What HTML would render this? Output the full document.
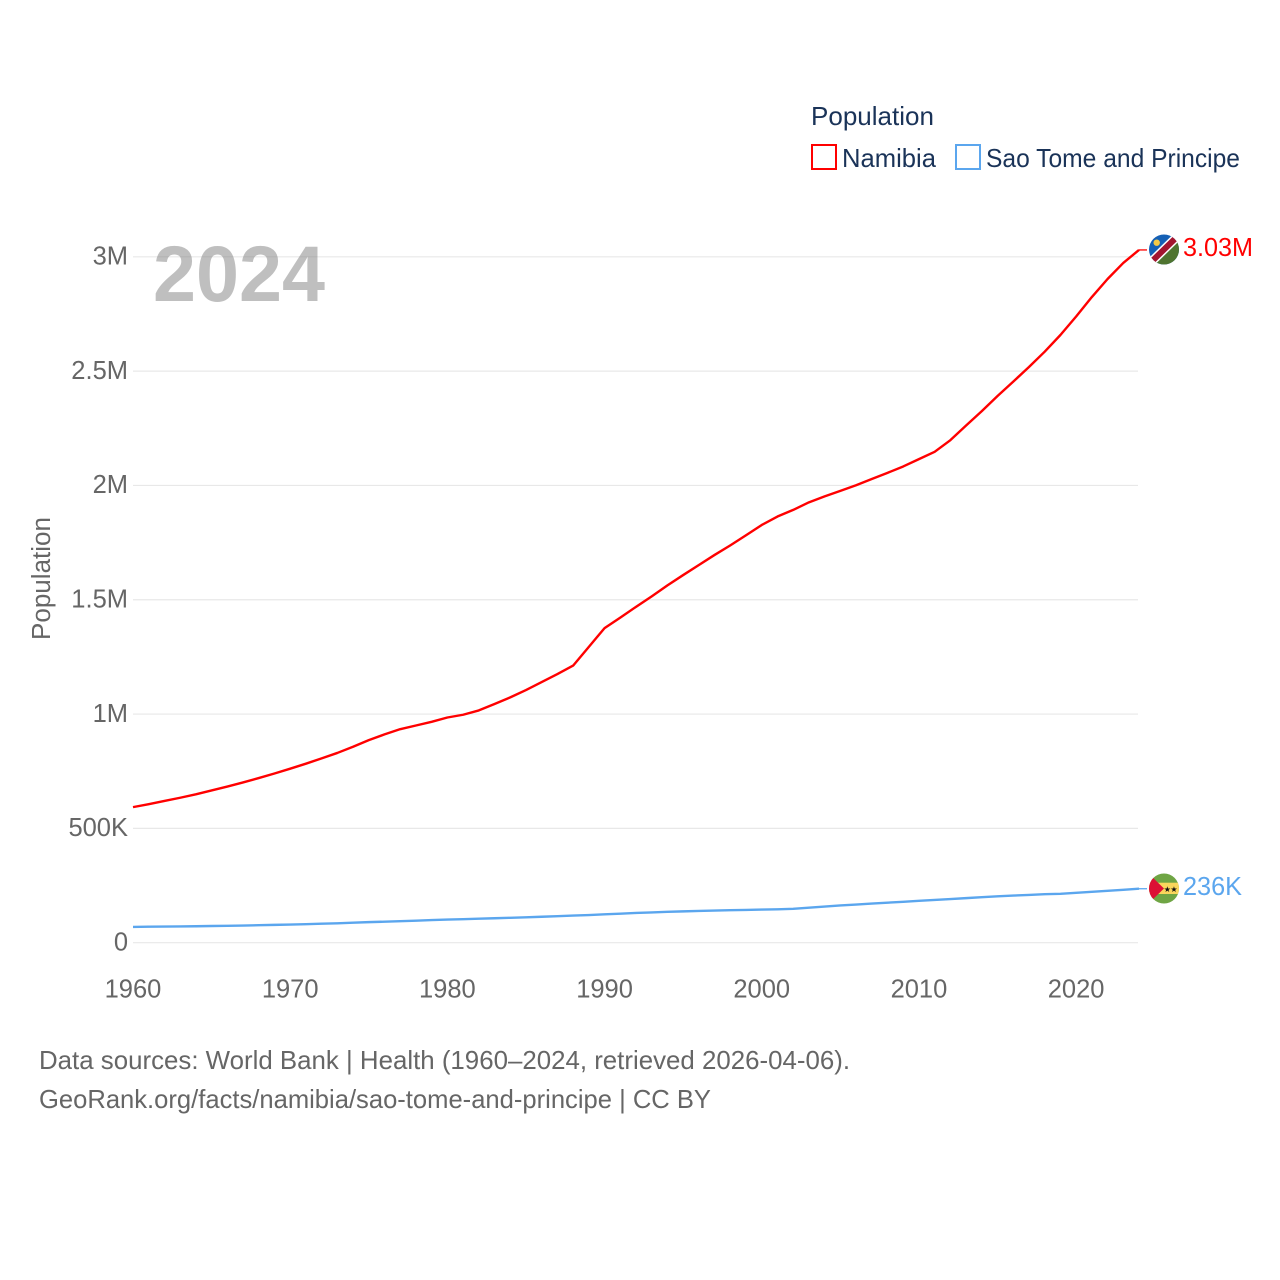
<!DOCTYPE html>
<html lang="en">
<head>
<meta charset="utf-8">
<title>Population: Namibia and Sao Tome and Principe</title>
<style>
html,body{margin:0;padding:0;background:#fff;width:1280px;height:1280px;overflow:hidden}
svg{display:block}
text{font-family:"Liberation Sans",sans-serif}
</style>
</head>
<body>
<svg id="chart" xmlns="http://www.w3.org/2000/svg" width="1280" height="1280" viewBox="0 0 1280 1280">
  <defs>
    <clipPath id="clip-na"><circle cx="1164" cy="249.5" r="15"/></clipPath>
    <clipPath id="clip-st"><circle cx="1164" cy="888.5" r="15"/></clipPath>
  </defs>
  <rect x="0" y="0" width="1280" height="1280" fill="#fff"/>
  <g id="grid"></g>
  <text x="153" y="301" font-size="79" font-weight="700" fill="#808080" fill-opacity="0.5" textLength="172" lengthAdjust="spacingAndGlyphs">2024</text>
  <g id="y-ticks"></g>
  <g id="x-ticks"></g>
  <text transform="translate(50,640) rotate(-90)" font-size="25.5" fill="#666" textLength="123" lengthAdjust="spacingAndGlyphs">Population</text>
  <g id="series"></g>

  <g>
    <text x="811" y="125" font-size="26" fill="#1a3358" textLength="123" lengthAdjust="spacingAndGlyphs">Population</text>
    <rect x="812" y="145" width="24" height="24" fill="#fff" stroke="#ff0000" stroke-width="2"/>
    <text x="842" y="167" font-size="26" fill="#1a3358" textLength="94" lengthAdjust="spacingAndGlyphs">Namibia</text>
    <rect x="956" y="145" width="24" height="24" fill="#fff" stroke="#5ba6ee" stroke-width="2"/>
    <text x="986" y="167" font-size="26" fill="#1a3358" textLength="254" lengthAdjust="spacingAndGlyphs">Sao Tome and Principe</text>
  </g>

  <g clip-path="url(#clip-na)">
    <rect x="1148" y="233" width="32" height="33" fill="#1560b5"/>
    <polygon points="1180,233 1180,266 1148,266" fill="#4f7430"/>
    <line x1="1144" y1="269" x2="1184" y2="230" stroke="#fff" stroke-width="9"/>
    <line x1="1144" y1="269" x2="1184" y2="230" stroke="#a3142f" stroke-width="6"/>
    <circle cx="1156.7" cy="242.7" r="3.2" fill="#f6c945"/>
  </g>
  <g clip-path="url(#clip-st)">
    <rect x="1148" y="873" width="32" height="32" fill="#6fa544"/>
    <rect x="1148" y="882.7" width="32" height="11.3" fill="#f9d65c"/>
    <polygon points="1148,873 1164,888.5 1148,904" fill="#dc0f35"/>
    <text x="1167.3" y="892" font-size="8" fill="#111" text-anchor="middle">★</text>
    <text x="1174" y="892" font-size="8" fill="#111" text-anchor="middle">★</text>
  </g>
  <text x="1183" y="256" font-size="25.5" fill="#ff0000" textLength="70" lengthAdjust="spacingAndGlyphs">3.03M</text>
  <text x="1183" y="895" font-size="25.5" fill="#5ba6ee" textLength="59" lengthAdjust="spacingAndGlyphs">236K</text>

  <text x="39" y="1069" font-size="26" fill="#666" textLength="811" lengthAdjust="spacingAndGlyphs">Data sources: World Bank | Health (1960–2024, retrieved 2026-04-06).</text>
  <text x="39" y="1108" font-size="26" fill="#666" textLength="672" lengthAdjust="spacingAndGlyphs">GeoRank.org/facts/namibia/sao-tome-and-principe | CC BY</text>
</svg>
<script>
const years = [1960,1961,1962,1963,1964,1965,1966,1967,1968,1969,1970,1971,1972,1973,1974,1975,1976,1977,1978,1979,1980,1981,1982,1983,1984,1985,1986,1987,1988,1989,1990,1991,1992,1993,1994,1995,1996,1997,1998,1999,2000,2001,2002,2003,2004,2005,2006,2007,2008,2009,2010,2011,2012,2013,2014,2015,2016,2017,2018,2019,2020,2021,2022,2023,2024];
const namibia = [593000,606000,620000,634000,649000,666000,683000,701000,720000,740000,761000,783000,806000,830000,857000,886000,911000,934000,950000,966000,985000,997000,1016000,1044000,1073000,1105000,1140000,1175000,1212000,1294000,1376000,1422000,1469000,1515000,1563000,1608000,1652000,1696000,1738000,1782000,1827000,1864000,1893000,1926000,1952000,1976000,2001000,2028000,2055000,2083000,2115000,2147000,2198000,2262000,2325000,2391000,2454000,2518000,2585000,2658000,2739000,2824000,2903000,2973000,3030000];
const saoTome = [69000,70000,70500,71000,72000,73000,74000,75000,76500,78000,79500,81000,83000,85000,87500,90000,92000,94000,96500,99000,101000,103000,105000,107000,109000,111000,113500,116000,118500,121000,124000,127000,130000,132500,135000,137000,139000,140500,142000,143500,145000,146000,148000,153000,158000,163000,167000,171000,175000,179000,183000,187000,191000,195000,199000,203000,206000,209000,212000,214000,218000,222500,227000,231500,236000];
const yTickValues = [0,500000,1000000,1500000,2000000,2500000,3000000];
const yTickLabels = ["0","500K","1M","1.5M","2M","2.5M","3M"];
const xTickValues = [1960,1970,1980,1990,2000,2010,2020];
const xTickLabels = ["1960","1970","1980","1990","2000","2010","2020"];

const NS = 'http://www.w3.org/2000/svg';
function xScale(year){ return 133 + (year - 1960) * (1139 - 133) / 64; }
function yScale(value){ return 942.7 - value * (942.7 - 256.8) / 3000000; }

const gridGroup = document.getElementById('grid');
const yTickGroup = document.getElementById('y-ticks');
yTickValues.forEach(function(v, i){
  const y = yScale(v);
  const line = document.createElementNS(NS, 'line');
  
  
  line.setAttribute('x1', 133);
  line.setAttribute('x2', 1138);
  line.setAttribute('y1', y);
  line.setAttribute('y2', y);
  line.setAttribute('stroke', '#e8e8e8');
  line.setAttribute('stroke-width', '1.2');
  gridGroup.appendChild(line);
  const label = document.createElementNS(NS, 'text');
  
  
  label.setAttribute('x', 128);
  label.setAttribute('y', y + 7.8);
  label.setAttribute('text-anchor', 'end');
  label.setAttribute('font-size', '25.5');
  label.setAttribute('fill', '#666');
  label.textContent = yTickLabels[i];
  yTickGroup.appendChild(label);
});

const xTickGroup = document.getElementById('x-ticks');
xTickValues.forEach(function(v, i){
  const label = document.createElementNS(NS, 'text');
  
  
  label.setAttribute('x', xScale(v));
  label.setAttribute('y', 997.5);
  label.setAttribute('text-anchor', 'middle');
  label.setAttribute('font-size', '25.5');
  label.setAttribute('fill', '#666');
  label.textContent = xTickLabels[i];
  xTickGroup.appendChild(label);
});

function drawSeries(values, color, lineName, leaderName){
  const group = document.getElementById('series');
  const pts = values.map(function(v, i){ return xScale(years[i]).toFixed(2) + ',' + yScale(v).toFixed(2); });
  const line = document.createElementNS(NS, 'polyline');
  
  
  line.setAttribute('points', pts.join(' '));
  line.setAttribute('fill', 'none');
  line.setAttribute('stroke', color);
  line.setAttribute('stroke-width', '2.4');
  line.setAttribute('stroke-linejoin', 'round');
  group.appendChild(line);
  const lastY = yScale(values[values.length - 1]);
  const leader = document.createElementNS(NS, 'line');
  
  
  leader.setAttribute('x1', xScale(years[years.length - 1]));
  leader.setAttribute('x2', 1147);
  leader.setAttribute('y1', lastY);
  leader.setAttribute('y2', lastY);
  leader.setAttribute('stroke', color);
  leader.setAttribute('stroke-width', '1.3');
  group.appendChild(leader);
}
drawSeries(namibia, '#ff0000', 'line-namibia', 'leader-namibia');
drawSeries(saoTome, '#5ba6ee', 'line-sao-tome', 'leader-sao-tome');
</script>
</body>
</html>
